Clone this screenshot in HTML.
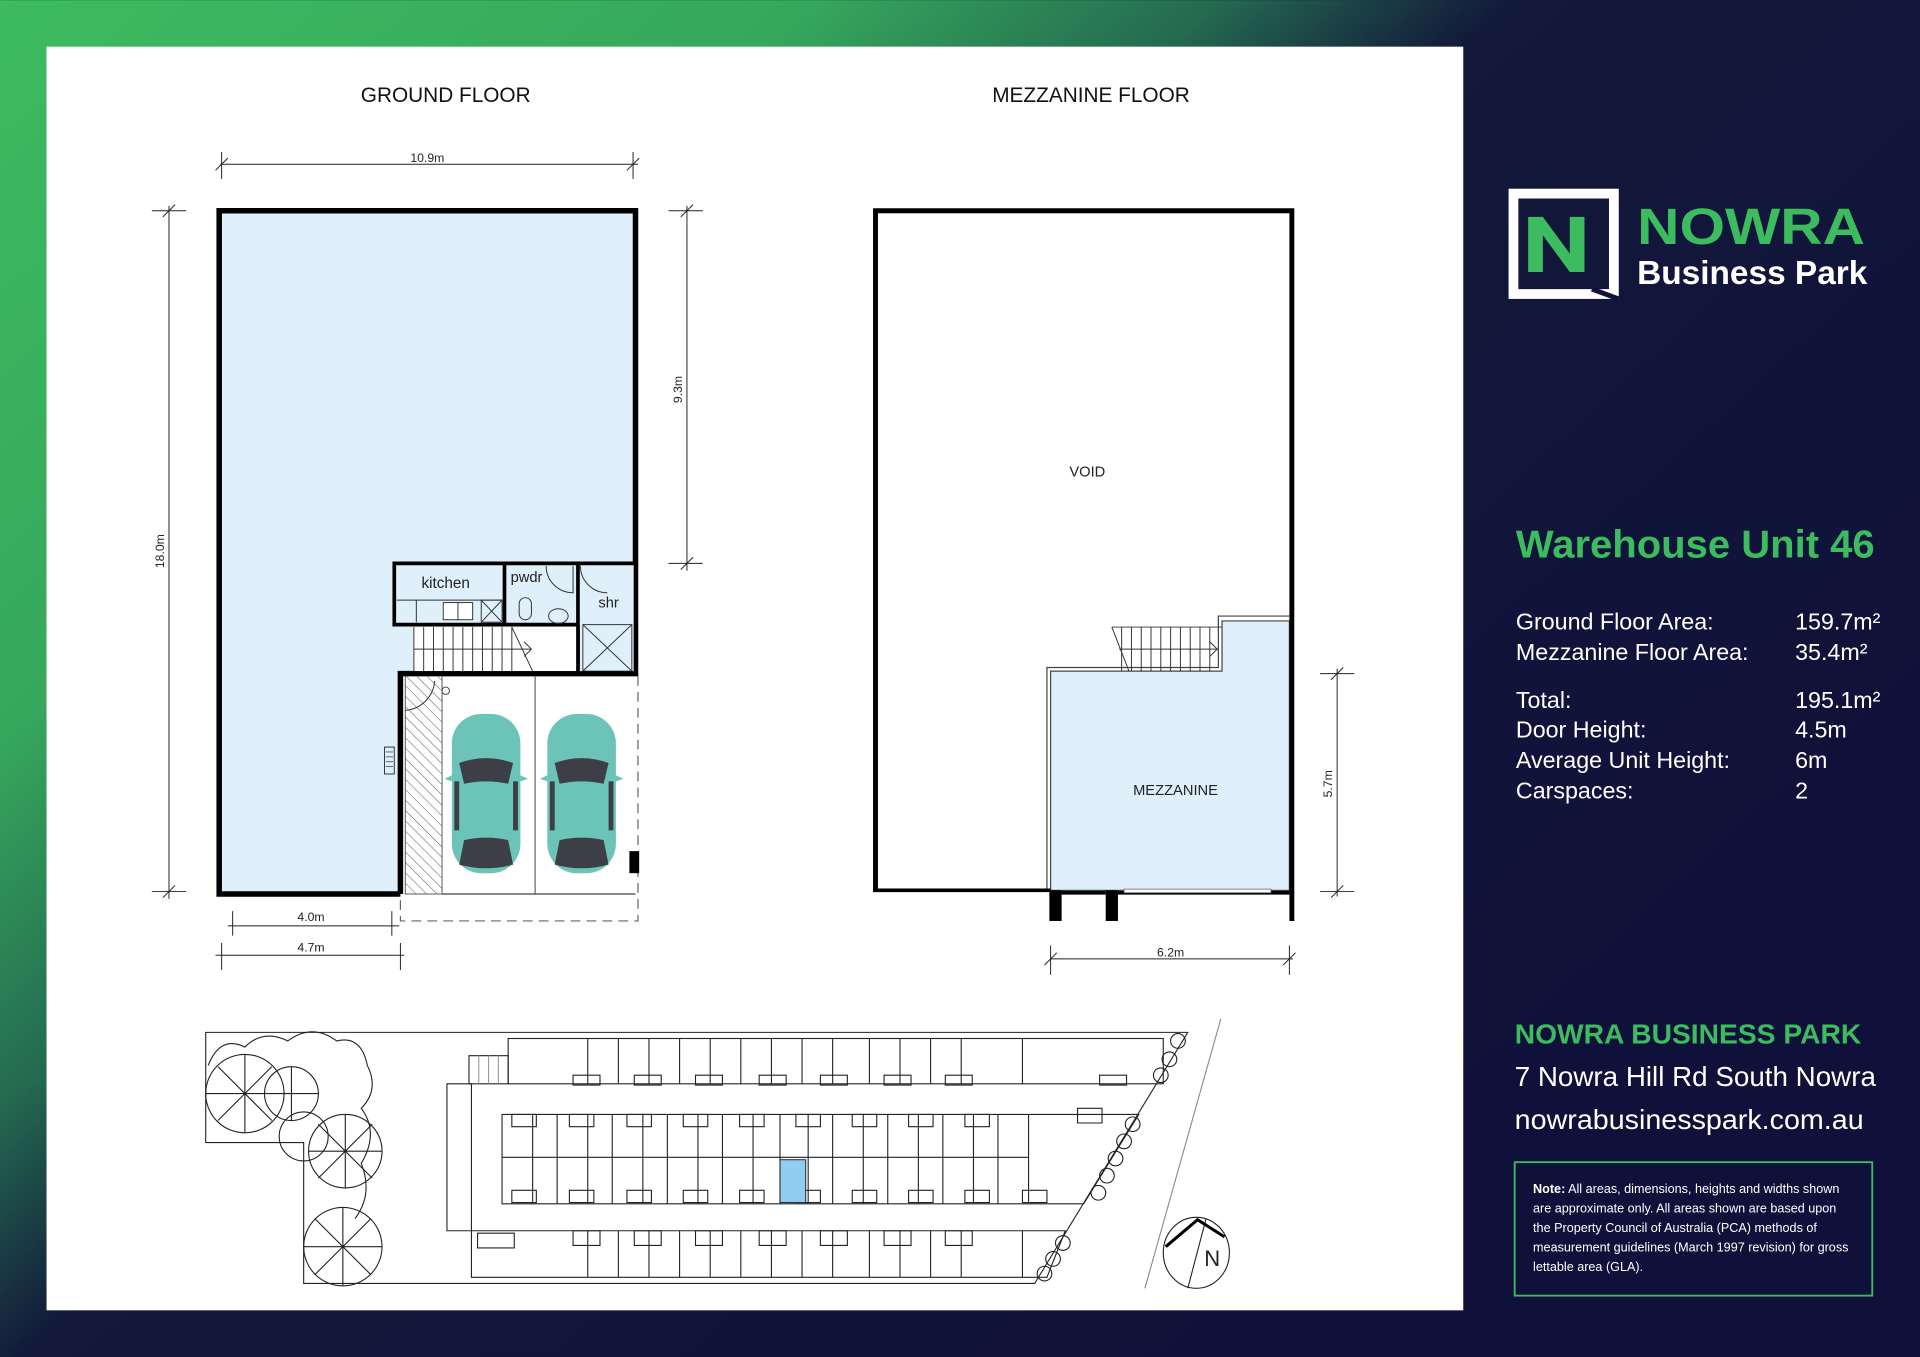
<!DOCTYPE html>
<html><head><meta charset="utf-8"><style>
html,body{margin:0;padding:0;width:1920px;height:1357px;overflow:hidden;background:#10113a}
svg{display:block}
text{font-family:"Liberation Sans",sans-serif}
</style></head><body>
<svg width="1920" height="1357" viewBox="0 0 1568 1108" xmlns="http://www.w3.org/2000/svg">
<defs>
<linearGradient id="bg" gradientUnits="userSpaceOnUse" x1="0" y1="0" x2="1000" y2="1100">
<stop offset="0" stop-color="#3dbb5f"/><stop offset="0.3" stop-color="#36a85c"/><stop offset="0.45" stop-color="#246a50"/><stop offset="0.56" stop-color="#12193a"/><stop offset="1" stop-color="#10113a"/>
</linearGradient>
<pattern id="hatch" width="6" height="6" patternUnits="userSpaceOnUse" patternTransform="rotate(-45)"><line x1="0" y1="0" x2="0" y2="6" stroke="#555" stroke-width="0.8"/></pattern>
<g id="car">
<rect x="-28" y="-65" width="56" height="130" rx="24" fill="#6cc3b8"/>
<path d="M-22,-25 Q0,-33 22,-25 L18,-8 Q0,-12 -18,-8Z" fill="#3c4046"/>
<path d="M-18,38 Q0,34 18,38 L22,58 Q0,64 -22,58Z" fill="#3c4046"/>
<rect x="-26" y="-10" width="4" height="40" fill="#3c4046"/><rect x="22" y="-10" width="4" height="40" fill="#3c4046"/>
<path d="M-28,-15 l-6,3 l6,2Z M28,-15 l6,3 l-6,2Z" fill="#6cc3b8"/>
</g>
</defs>
<rect width="1568" height="1108" fill="url(#bg)"/>
<rect x="38" y="38" width="1157" height="1032" fill="#fff"/>

<text x="364" y="83" font-size="17" text-anchor="middle" fill="#111">GROUND FLOOR</text>
<text x="891" y="83" font-size="17" text-anchor="middle" fill="#111">MEZZANINE FLOOR</text>

<!-- Ground floor -->
<path d="M179,172 H519 V550 H327 V730 H179Z" fill="#dff0fa"/>
<rect x="327" y="550" width="192" height="180" fill="#fff"/>
<path d="M327,730 H179 V172 H519 V550 H327 V730" fill="none" stroke="#000" stroke-width="4.5"/>
<path d="M521,552 V752 H327 V732" fill="none" stroke="#666" stroke-width="1" stroke-dasharray="8,5"/>
<rect x="331" y="552" width="30" height="178" fill="url(#hatch)" stroke="#555" stroke-width="0.8"/>
<line x1="437" y1="552" x2="437" y2="730" stroke="#666"/>
<line x1="361" y1="730" x2="519" y2="730" stroke="#444"/>
<rect x="514" y="695" width="8" height="18" fill="#000"/>
<circle cx="364" cy="564" r="3" fill="none" stroke="#444" stroke-width="0.8"/>
<path d="M331,580 A26,26 0 0 0 355,556" fill="none" stroke="#333" stroke-width="0.8"/>
<use href="#car" x="397" y="648"/><use href="#car" x="475" y="648"/>
<rect x="314" y="610" width="8" height="22" fill="none" stroke="#333" stroke-width="0.8"/>
<g stroke="#333" stroke-width="0.6"><line x1="315" y1="614" x2="321" y2="614"/><line x1="315" y1="618" x2="321" y2="618"/><line x1="315" y1="622" x2="321" y2="622"/><line x1="315" y1="626" x2="321" y2="626"/></g>
<path d="M322,460 H412 V510 H322Z M412,460 H472 V510 H412Z M472,460 H519 V550 H472Z" fill="#dff0fa" stroke="#000" stroke-width="3"/>
<text x="364" y="480" font-size="12.5" text-anchor="middle" fill="#222">kitchen</text>
<text x="430" y="475" font-size="12" text-anchor="middle" fill="#222">pwdr</text>
<text x="497" y="496" font-size="12" text-anchor="middle" fill="#222">shr</text>
<g stroke="#333" stroke-width="0.8" fill="none">
<line x1="324" y1="490" x2="410" y2="490"/><line x1="340" y1="490" x2="340" y2="508"/>
<rect x="362" y="492" width="24" height="14" fill="#fff"/><line x1="374" y1="492" x2="374" y2="506"/>
<rect x="393" y="490" width="17" height="18"/><line x1="393" y1="490" x2="410" y2="508"/><line x1="410" y1="490" x2="393" y2="508"/>
<path d="M446,462 A22,22 0 0 0 468,484 V462"/>
<rect x="424" y="488" width="10" height="18" rx="5"/>
<ellipse cx="456" cy="503" rx="8" ry="6"/>
<path d="M474,462 A22,22 0 0 0 496,484"/>
<rect x="476" y="510" width="40" height="38"/><line x1="476" y1="510" x2="516" y2="548"/><line x1="516" y1="510" x2="476" y2="548"/>
</g>
<rect x="338" y="512" width="134" height="36" fill="#fff"/>
<g stroke="#333" stroke-width="0.8">
<line x1="338" y1="512" x2="338" y2="548"/><line x1="346" y1="512" x2="346" y2="548"/><line x1="354" y1="512" x2="354" y2="548"/><line x1="362" y1="512" x2="362" y2="548"/><line x1="370" y1="512" x2="370" y2="548"/><line x1="378" y1="512" x2="378" y2="548"/><line x1="386" y1="512" x2="386" y2="548"/><line x1="394" y1="512" x2="394" y2="548"/><line x1="402" y1="512" x2="402" y2="548"/><line x1="410" y1="512" x2="410" y2="548"/><line x1="418" y1="512" x2="418" y2="548"/>
<line x1="338" y1="530" x2="434" y2="530"/><line x1="418" y1="512" x2="435" y2="548"/><path d="M428,524 L434,530 L428,536" fill="none"/>
</g>
<line x1="472" y1="510" x2="472" y2="550" stroke="#000" stroke-width="3"/>
<line x1="327" y1="550" x2="519" y2="550" stroke="#000" stroke-width="4"/>

<g stroke="#222" stroke-width="0.8" fill="none">
<line x1="180" y1="134" x2="521" y2="134"/><line x1="181" y1="124" x2="181" y2="146"/><line x1="517" y1="124" x2="517" y2="146"/><line x1="176" y1="139" x2="186" y2="129"/><line x1="512" y1="139" x2="522" y2="129"/>
<line x1="138" y1="168" x2="138" y2="734"/><line x1="124" y1="172" x2="152" y2="172"/><line x1="124" y1="728" x2="152" y2="728"/><line x1="133" y1="177" x2="143" y2="167"/><line x1="133" y1="733" x2="143" y2="723"/>
<line x1="561" y1="168" x2="561" y2="466"/><line x1="546" y1="172" x2="574" y2="172"/><line x1="546" y1="460" x2="574" y2="460"/><line x1="556" y1="177" x2="566" y2="167"/><line x1="556" y1="465" x2="566" y2="455"/>
<line x1="186" y1="756" x2="326" y2="756"/><line x1="190" y1="744" x2="190" y2="764"/><line x1="320" y1="744" x2="320" y2="764"/>
<line x1="176" y1="780" x2="330" y2="780"/><line x1="181" y1="770" x2="181" y2="792"/><line x1="327" y1="770" x2="327" y2="792"/>
<line x1="858" y1="783" x2="1056" y2="783"/><line x1="858" y1="772" x2="858" y2="796"/><line x1="1053" y1="772" x2="1053" y2="796"/><line x1="853" y1="788" x2="863" y2="778"/><line x1="1048" y1="788" x2="1058" y2="778"/>
<line x1="1092" y1="546" x2="1092" y2="732"/><line x1="1078" y1="550" x2="1106" y2="550"/><line x1="1078" y1="728" x2="1106" y2="728"/><line x1="1087" y1="555" x2="1097" y2="545"/><line x1="1087" y1="733" x2="1097" y2="723"/>
</g>
<text x="349" y="132" font-size="10" text-anchor="middle" fill="#222">10.9m</text>
<text x="254" y="752" font-size="10" text-anchor="middle" fill="#222">4.0m</text>
<text x="254" y="777" font-size="10" text-anchor="middle" fill="#222">4.7m</text>
<text x="956" y="781" font-size="10" text-anchor="middle" fill="#222">6.2m</text>
<text transform="translate(134,450) rotate(-90)" font-size="10" text-anchor="middle" fill="#222">18.0m</text>
<text transform="translate(557,318) rotate(-90)" font-size="10" text-anchor="middle" fill="#222">9.3m</text>
<text transform="translate(1088,640) rotate(-90)" font-size="10" text-anchor="middle" fill="#222">5.7m</text>

<!-- Mezzanine -->
<path d="M858,548 H998 V507 H1053 V727 H858Z" fill="#dff0fa" stroke="#444" stroke-width="1"/>
<path d="M855,727 V545 H995 V503 H1053" fill="none" stroke="#444" stroke-width="1"/>
<path d="M715,727 V172 H1055 V752" fill="none" stroke="#000" stroke-width="4"/>
<line x1="713" y1="727" x2="858" y2="727" stroke="#000" stroke-width="3"/>
<rect x="857" y="727" width="10" height="25" fill="#000"/><rect x="903" y="727" width="10" height="25" fill="#000"/>
<line x1="867" y1="729" x2="903" y2="729" stroke="#000" stroke-width="3"/>
<line x1="913" y1="729" x2="1053" y2="729" stroke="#000" stroke-width="3"/>
<rect x="918" y="726" width="120" height="3" fill="#fff" stroke="#555" stroke-width="0.6"/>
<g stroke="#333" stroke-width="0.8" fill="none">
<path d="M908,512 H998 M908,512 L922,548"/>
<line x1="916" y1="512" x2="916" y2="548"/><line x1="924" y1="512" x2="924" y2="548"/><line x1="932" y1="512" x2="932" y2="548"/><line x1="940" y1="512" x2="940" y2="548"/><line x1="948" y1="512" x2="948" y2="548"/><line x1="956" y1="512" x2="956" y2="548"/><line x1="964" y1="512" x2="964" y2="548"/><line x1="972" y1="512" x2="972" y2="548"/><line x1="980" y1="512" x2="980" y2="548"/><line x1="988" y1="512" x2="988" y2="548"/>
<line x1="914" y1="530" x2="995" y2="530"/><path d="M988,524 L994,530 L988,536"/>
</g>
<text x="888" y="389" font-size="12" text-anchor="middle" fill="#222">VOID</text>
<text x="960" y="649" font-size="12" text-anchor="middle" fill="#222">MEZZANINE</text>

<!-- Site plan -->
<g stroke="#222" stroke-width="0.9" fill="none">
<path d="M168,843 H970 L845,1048 H248 V933 H168Z"/>
<line x1="997" y1="832" x2="935" y2="1052" stroke="#888"/>
<rect x="415" y="848" width="535" height="37"/>
<path d="M480,848v37M505,848v37M530,848v37M555,848v37M580,848v37M605,848v37M630,848v37M655,848v37M680,848v37M710,848v37M735,848v37M760,848v37M785,848v37M835,848v37"/>
<path d="M383,862h32v23h-32z M468,878h22v8h-22z M518,878h22v8h-22z M568,878h22v8h-22z M620,878h22v8h-22z M670,878h22v8h-22z M722,878h22v8h-22z M772,878h22v8h-22z M898,878h22v8h-22z"/>
<path d="M391,862v23M399,862v23M407,862v23" stroke="#999"/>
<path d="M410,910 H930 L885,983 H410Z"/>
<line x1="410" y1="945" x2="840" y2="945"/>
<path d="M435,910v73M455,910v73M480,910v73M500,910v73M525,910v73M545,910v73M570,910v73M590,910v73M615,910v73M637,910v73M660,910v73M680,910v73M705,910v73M725,910v73M750,910v73M770,910v73M795,910v73M815,910v73M840,910v73"/>
<path d="M418,910h20v10h-20z M465,910h20v10h-20z M512,910h20v10h-20z M558,910h20v10h-20z M604,910h20v10h-20z M650,910h20v10h-20z M696,910h20v10h-20z M742,910h20v10h-20z M788,910h20v10h-20z M880,905h20v12h-20z"/>
<path d="M418,972h20v10h-20z M465,972h20v10h-20z M512,972h20v10h-20z M558,972h20v10h-20z M604,972h20v10h-20z M650,972h20v10h-20z M696,972h20v10h-20z M742,972h20v10h-20z M788,972h20v10h-20z M835,972h20v10h-20z"/>
<path d="M365,885 h20 v120 h-20z"/>
<path d="M385,1005 H870 L855,1043 H385Z"/>
<path d="M480,1005v38M505,1005v38M530,1005v38M555,1005v38M580,1005v38M605,1005v38M630,1005v38M655,1005v38M680,1005v38M710,1005v38M735,1005v38M760,1005v38M785,1005v38M835,1005v38"/>
<path d="M468,1005h22v12h-22z M518,1005h22v12h-22z M568,1005h22v12h-22z M620,1005h22v12h-22z M670,1005h22v12h-22z M722,1005h22v12h-22z M772,1005h22v12h-22z M390,1007h30v12h-30z"/>
<circle cx="200" cy="893" r="32"/><circle cx="238" cy="893" r="22"/><circle cx="248" cy="928" r="20"/><circle cx="282" cy="940" r="30"/><circle cx="280" cy="1018" r="32"/>
<path d="M170,870 q10,-25 30,-15 q15,-15 35,-5 q20,-15 40,0 q20,-5 25,20 q10,20 -5,35 q15,20 0,45 q10,25 -5,45"/>
<path d="M200,861 L200,925 M168,893 L232,893 M178,871 L222,915 M222,871 L178,915 M282,910 L282,970 M252,940 L312,940 M260,918 L304,962 M304,918 L260,962 M280,986 L280,1050 M248,1018 L312,1018 M257,995 L303,1041 M303,995 L257,1041 M238,871 L238,915 M216,893 L260,893"/>
<circle cx="962" cy="850" r="6"/><circle cx="955" cy="865" r="6"/><circle cx="948" cy="878" r="6"/>
<circle cx="925" cy="918" r="6"/><circle cx="918" cy="932" r="6"/><circle cx="911" cy="946" r="6"/><circle cx="904" cy="960" r="6"/><circle cx="897" cy="974" r="6"/>
<circle cx="868" cy="1015" r="6"/><circle cx="860" cy="1028" r="6"/><circle cx="853" cy="1040" r="6"/>
<ellipse cx="977" cy="1023" rx="27" ry="29"/><line x1="985" y1="995" x2="970" y2="1052"/>
</g>
<path d="M952,1018 L978,996 L1000,1010" fill="none" stroke="#000" stroke-width="2.5"/>
<text x="990" y="1034" font-size="18" text-anchor="middle" fill="#222">N</text>
<rect x="637" y="947" width="21" height="35" fill="#8fcdf0" stroke="#222" stroke-width="0.8"/>

<!-- Right panel -->
<rect x="1236" y="158" width="82" height="82" fill="none" stroke="#fff" stroke-width="8"/>
<path d="M1300,236 L1322,244" stroke="#10113a" stroke-width="4"/>
<path d="M1248,177 h12 l22,30 v-30 h12 v45 h-12 l-22,-30 v30 h-12z" fill="#3dbb5f"/>
<text x="1337" y="199" font-size="42" font-weight="bold" fill="#3dbb5f" textLength="186" lengthAdjust="spacingAndGlyphs">NOWRA</text>
<text x="1337" y="232" font-size="27" font-weight="bold" fill="#fff" textLength="188" lengthAdjust="spacingAndGlyphs">Business Park</text>
<text x="1238" y="455" font-size="32" font-weight="bold" fill="#3dbb5f" textLength="293" lengthAdjust="spacingAndGlyphs">Warehouse Unit 46</text>
<g font-size="19" fill="#fff">
<text x="1238" y="514">Ground Floor Area:</text><text x="1466" y="514">159.7m²</text>
<text x="1238" y="539">Mezzanine Floor Area:</text><text x="1466" y="539">35.4m²</text>
<text x="1238" y="578">Total:</text><text x="1466" y="578">195.1m²</text>
<text x="1238" y="602">Door Height:</text><text x="1466" y="602">4.5m</text>
<text x="1238" y="627">Average Unit Height:</text><text x="1466" y="627">6m</text>
<text x="1238" y="652">Carspaces:</text><text x="1466" y="652">2</text>
</g>
<text x="1237" y="852" font-size="23" font-weight="bold" fill="#3dbb5f" textLength="283" lengthAdjust="spacingAndGlyphs">NOWRA BUSINESS PARK</text>
<text x="1237" y="887" font-size="23" fill="#fff" textLength="295" lengthAdjust="spacingAndGlyphs">7 Nowra Hill Rd South Nowra</text>
<text x="1237" y="922" font-size="23" fill="#fff" textLength="285" lengthAdjust="spacingAndGlyphs">nowrabusinesspark.com.au</text>
<rect x="1237" y="949" width="292" height="109" fill="none" stroke="#3dbb5f" stroke-width="1.5"/>
<g font-size="10.3" fill="#fff">
<text x="1252" y="974"><tspan font-weight="bold">Note:</tspan> All areas, dimensions, heights and widths shown</text>
<text x="1252" y="990">are approximate only. All areas shown are based upon</text>
<text x="1252" y="1006">the Property Council of Australia (PCA) methods of</text>
<text x="1252" y="1022">measurement guidelines (March 1997 revision) for gross</text>
<text x="1252" y="1038">lettable area (GLA).</text>
</g>
</svg>
</body></html>
